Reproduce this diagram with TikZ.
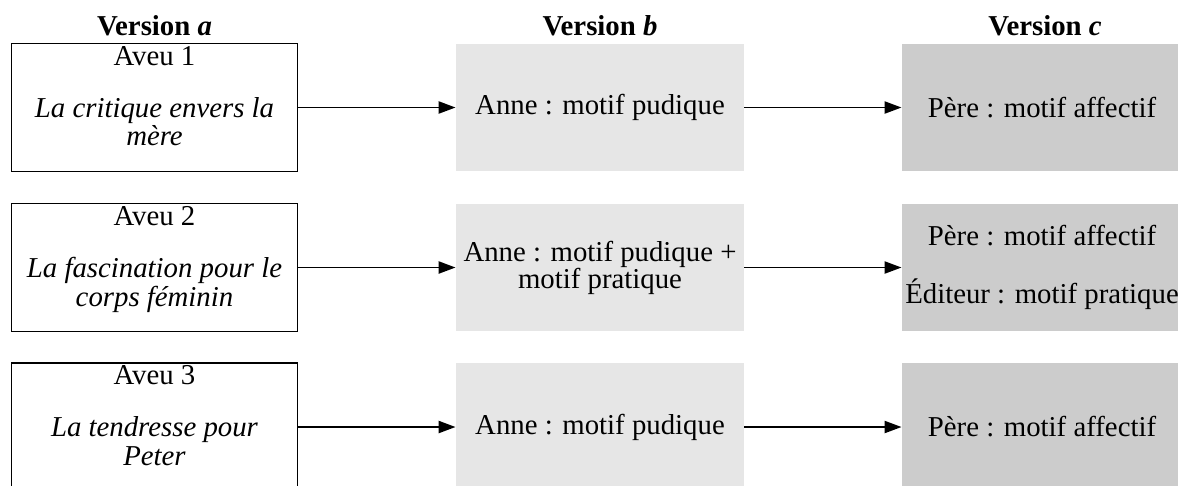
\documentclass[tikz,border=0pt]{standalone}
\usepackage{fontspec}
\setmainfont{Liberation Serif}
\usetikzlibrary{arrows.meta}
\definecolor{grisclair}{HTML}{E6E6E6}
\definecolor{grisfonce}{HTML}{CCCCCC}
\begin{document}
\begin{tikzpicture}[x=0.4167pt,y=-0.4167pt,
    every node/.style={font=\fontsize{12}{13}\selectfont},
    aveu/.style={draw,line width=0.5pt,minimum width=119.5pt,minimum height=53.3pt,inner sep=0pt},
    versb/.style={fill=grisclair,minimum width=120pt,minimum height=53.3pt,inner sep=0pt,align=center},
    versc/.style={fill=grisfonce,minimum width=116.7pt,minimum height=53.3pt,inner sep=0pt,align=center},
    titre/.style={font=\fontsize{12}{13}\selectfont\bfseries,anchor=base},
    theme/.style={font=\fontsize{12}{12}\selectfont\itshape,anchor=north,align=center,inner sep=0pt},
    fleche/.style={-{Triangle[length=7pt,width=5pt]},line width=0.8pt}]
    \useasboundingbox (0,0) rectangle (1178,485);
    \clip (0,0) rectangle (1178,485);
    % titres des colonnes
    \node[titre] (ta) at (154.5,35) {Version \textit{a}};
    \node[titre] (tb) at (600,35) {Version \textit{b}};
    \node[titre] (tc) at (1045,35) {Version \textit{c}};
    % aveu 1
    \node[aveu] (a1) at (154.5,107.5) {};
    \node[anchor=base,inner sep=0pt] (a1n) at ([yshift=-9.2pt]a1.north) {Aveu 1};
    \node[theme] (a1t) at ([yshift=-22.4pt]a1.north) {La critique envers la\\mère};
    \node[versb] (b1) at (600,107.5) {Anne : motif pudique};
    \node[versc] (c1) at (1042,107.5) {Père : motif affectif};
    \draw[fleche] (a1) -- (b1);
    \draw[fleche] (b1) -- (c1);
    % aveu 2
    \node[aveu] (a2) at (154.5,267.5) {};
    \node[anchor=base,inner sep=0pt] (a2n) at ([yshift=-9.2pt]a2.north) {Aveu 2};
    \node[theme] (a2t) at ([yshift=-22.4pt]a2.north) {La fascination pour le\\corps féminin};
    \node[versb,font=\fontsize{12}{11.3}\selectfont] (b2) at (600,267.5) {Anne : motif pudique +\\motif pratique};
    \node[versc] (c2) at (1042,267.5) {Père : motif affectif\\[11pt]Éditeur : motif pratique};
    \draw[fleche] (a2) -- (b2);
    \draw[fleche] (b2) -- (c2);
    % aveu 3
    \node[aveu] (a3) at (154.5,427) {};
    \node[anchor=base,inner sep=0pt] (a3n) at ([yshift=-9.2pt]a3.north) {Aveu 3};
    \node[theme] (a3t) at ([yshift=-22.4pt]a3.north) {La tendresse pour\\Peter};
    \node[versb] (b3) at (600,427) {Anne : motif pudique};
    \node[versc] (c3) at (1042,427) {Père : motif affectif};
    \draw[fleche] (a3) -- (b3);
    \draw[fleche] (b3) -- (c3);
\end{tikzpicture}
\end{document}
